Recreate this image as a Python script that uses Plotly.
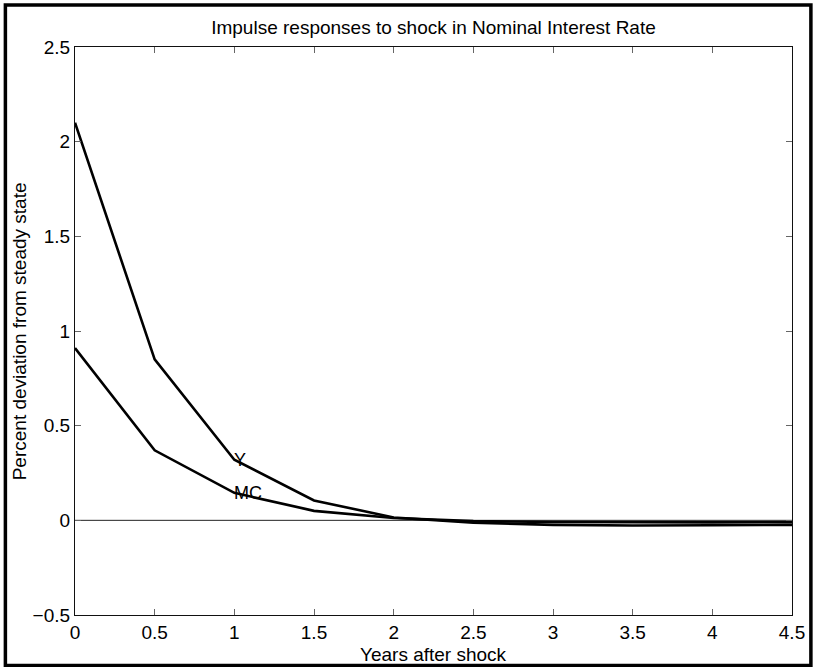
import plotly.graph_objects as go

# Data
years = [0, 0.5, 1, 1.5, 2, 2.5, 3, 3.5, 4, 4.5]
y_resp = [2.10, 0.85, 0.32, 0.105, 0.015, -0.012, -0.024, -0.027, -0.026, -0.024]
mc_resp = [0.91, 0.37, 0.145, 0.05, 0.012, -0.004, -0.009, -0.011, -0.011, -0.010]
zero_line = [0] * len(years)

x_ticks = [0, 0.5, 1, 1.5, 2, 2.5, 3, 3.5, 4, 4.5]
x_ticktext = ["0", "0.5", "1", "1.5", "2", "2.5", "3", "3.5", "4", "4.5"]
y_ticks = [-0.5, 0, 0.5, 1, 1.5, 2, 2.5]
y_ticktext = ["\u22120.5", "0", "0.5", "1", "1.5", "2", "2.5"]

title_text = "Impulse responses to shock in Nominal Interest Rate"
xlabel = "Years after shock"
ylabel = "Percent deviation from steady state"
series_labels = ["Y", "MC"]

FONT = "Liberation Sans, Arial, Helvetica, sans-serif"
W, H = 817, 667
L, R, T, B = 75, 21, 47, 52
PW, PH = W - L - R, H - T - B

def px_x(p):
    return (p - L) / PW

def px_y(p):
    return (H - B - p) / PH

fig = go.Figure()
fig.add_trace(go.Scatter(x=years, y=zero_line, mode="lines",
                         line=dict(color="#222222", width=1), showlegend=False, hoverinfo="skip"))
fig.add_trace(go.Scatter(x=years, y=y_resp, mode="lines",
                         line=dict(color="black", width=2.6), showlegend=False))
fig.add_trace(go.Scatter(x=years, y=mc_resp, mode="lines",
                         line=dict(color="black", width=2.6), showlegend=False))

# Series labels at x=1
for lab, ser in zip(series_labels, [y_resp, mc_resp]):
    fig.add_annotation(x=years[2], y=ser[2], xref="x", yref="y", text=lab,
                       showarrow=False, xanchor="left", yanchor="middle",
                       xshift=-2, font=dict(family=FONT, size=18, color="black"))

# Axis titles
fig.add_annotation(x=0.5, y=px_y(654), xref="paper", yref="paper", text=xlabel,
                   showarrow=False, xanchor="center", yanchor="middle",
                   font=dict(family=FONT, size=19, color="black"))
fig.add_annotation(x=px_x(19), y=0.5, xref="paper", yref="paper", text=ylabel,
                   showarrow=False, xanchor="center", yanchor="middle", textangle=-90,
                   font=dict(family=FONT, size=19, color="black"))

# Outer frame
fig.add_shape(type="rect", xref="paper", yref="paper",
              x0=px_x(5), x1=px_x(815), y0=px_y(665.5), y1=px_y(5),
              line=dict(color="black", width=3.5), fillcolor="rgba(0,0,0,0)", layer="above")

fig.update_layout(
    width=W, height=H,
    margin=dict(l=L, r=R, t=T, b=B),
    paper_bgcolor="white", plot_bgcolor="white",
    font=dict(family=FONT, size=19, color="black"),
    title=dict(text=title_text, x=0.5, xanchor="center", xref="paper",
               y=(H - 27) / H, yanchor="middle", yref="container",
               font=dict(family=FONT, size=19, color="black")),
    showlegend=False,
)
fig.update_xaxes(range=[0, 4.5], tickvals=x_ticks, ticktext=x_ticktext,
                 ticks="inside", ticklen=6, tickwidth=1, tickcolor="#666666",
                 showline=True, linecolor="#111111", linewidth=1.3, mirror="ticks",
                 showgrid=False, zeroline=False, tickfont=dict(size=19, family=FONT))
fig.update_yaxes(range=[-0.5, 2.5], tickvals=y_ticks, ticktext=y_ticktext,
                 ticks="inside", ticklen=6, tickwidth=1, tickcolor="#666666",
                 showline=True, linecolor="#111111", linewidth=1.3, mirror="ticks",
                 showgrid=False, zeroline=False, tickfont=dict(size=19, family=FONT))

fig.write_html("out.html")
